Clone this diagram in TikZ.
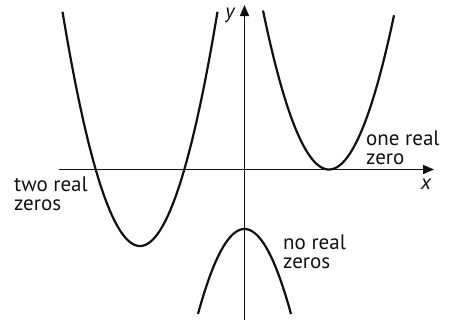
\documentclass[tikz,border=0pt]{standalone}
\usepackage{fontspec}
\setmainfont{PT Sans}
\setsansfont{PT Sans}
\usetikzlibrary{arrows.meta, positioning}
\definecolor{cblack}{HTML}{111111}
\tikzset{
  every picture/.style={font=\sffamily, x=1pt, y=1pt},
  axis/.style={-{Triangle[length=11pt, width=9pt]}, draw=cblack, line width=1.3pt},
  curve/.style={draw=cblack, line width=2.2pt, samples=80, smooth},
  note/.style={font=\fontsize{21}{19}\selectfont, text=cblack, align=left, inner sep=0pt, anchor=base west},
  varlabel/.style={font=\fontsize{21}{21}\selectfont\itshape, text=cblack, inner sep=0pt},
}

\begin{document}
\begin{tikzpicture}
  \useasboundingbox (-244.5,-152.5) rectangle (207.5,169.5);
  % axes
  \coordinate (xstart) at (-185.5,0);
  \coordinate (xend) at (189.5,0);
  \coordinate (ystart) at (0,-150.5);
  \coordinate (yend) at (0,164.5);
  \draw[axis] (xstart) -- (xend);
  \draw[axis] (ystart) -- (yend);
  \node[varlabel] (xlab) at (181.5,-14.5) {x};
  \node[varlabel] (ylab) at (-14.5,154.5) {y};
  % parabolas
  \draw[curve] plot[domain=-77.5:77.5] ({-104.5+\x},{-76.5+0.039*\x*\x});
  \draw[curve] plot[domain=-66:65] ({84.5+\x},{0.0365*\x*\x});
  \draw[curve] plot[domain=-46.5:46.5] ({\x},{-59.5-0.0393*\x*\x});
  % labels (anchored at the baseline of the last line)
  \node[note] (two) at (-230.5,-41) {two real\\zeros};
  \node[note] (one) at (121.5,5) {one real\\zero};
  \node[note] (none) at (38.5,-99) {no real\\zeros};
\end{tikzpicture}
\end{document}
